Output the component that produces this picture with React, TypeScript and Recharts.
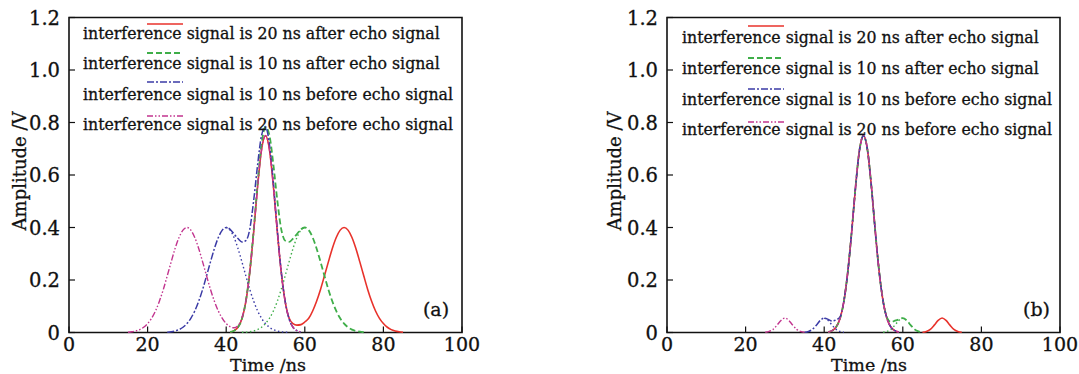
import { LineChart, Line, XAxis, YAxis, ReferenceArea } from "recharts";

// axis ticks
const xTicks = [0, 20, 40, 60, 80, 100];
const yTicks = [0, 0.2, 0.4, 0.6, 0.8, 1.0, 1.2];

const legendLabels = [
  "interference signal is 20 ns after echo signal",
  "interference signal is 10 ns after echo signal",
  "interference signal is 10 ns before echo signal",
  "interference signal is 20 ns before echo signal",
];

// panel (a) — one sample per ns, starting at the given time
const aRedStart = 41;
const aRed = [0.002, 0.007, 0.02, 0.052, 0.118, 0.23, 0.385, 0.558, 0.697, 0.75, 0.697, 0.558, 0.385, 0.23, 0.119, 0.055, 0.034, 0.028, 0.03, 0.04, 0.054, 0.082, 0.119, 0.164, 0.216, 0.269, 0.32, 0.362, 0.39, 0.4, 0.39, 0.362, 0.32, 0.269, 0.216, 0.164, 0.119, 0.082, 0.054, 0.034, 0.02, 0.011, 0.006, 0.003, 0.001];
const aGreenStart = 41;
const aGreen = [0.002, 0.007, 0.02, 0.052, 0.119, 0.233, 0.391, 0.569, 0.717, 0.784, 0.751, 0.64, 0.504, 0.394, 0.35, 0.345, 0.358, 0.375, 0.393, 0.4, 0.39, 0.362, 0.32, 0.269, 0.216, 0.164, 0.119, 0.082, 0.054, 0.034, 0.02, 0.011, 0.006, 0.003, 0.001];
const aBlueStart = 25;
const aBlue = [0.001, 0.003, 0.006, 0.011, 0.02, 0.034, 0.054, 0.082, 0.119, 0.164, 0.216, 0.269, 0.32, 0.362, 0.39, 0.4, 0.393, 0.375, 0.358, 0.345, 0.35, 0.394, 0.504, 0.64, 0.751, 0.784, 0.717, 0.569, 0.391, 0.233, 0.119, 0.052, 0.02, 0.007, 0.002];
const aMagentaStart = 15;
const aMagenta = [0.001, 0.003, 0.006, 0.011, 0.02, 0.034, 0.054, 0.082, 0.119, 0.164, 0.216, 0.269, 0.32, 0.362, 0.39, 0.4, 0.39, 0.362, 0.32, 0.269, 0.216, 0.164, 0.119, 0.082, 0.054, 0.034, 0.022, 0.018, 0.026, 0.055, 0.119, 0.23, 0.385, 0.558, 0.697, 0.75, 0.697, 0.558, 0.385, 0.23, 0.118, 0.052, 0.02, 0.007, 0.002];
const aBlueDotStart = 40;
const aBlueDot = [0.4, 0.39, 0.362, 0.32, 0.269, 0.216, 0.164, 0.119, 0.082, 0.054, 0.034, 0.02, 0.011, 0.006, 0.003, 0.001, 0.001];
const aGreenDotStart = 44;
const aGreenDot = [0.001, 0.001, 0.003, 0.006, 0.011, 0.02, 0.034, 0.054, 0.082, 0.119, 0.164, 0.216, 0.269, 0.32, 0.362, 0.39, 0.4];

// panel (b)
const bRedStart = 41;
const bRed = [0.002, 0.007, 0.02, 0.052, 0.118, 0.23, 0.385, 0.558, 0.697, 0.75, 0.697, 0.558, 0.385, 0.23, 0.118, 0.052, 0.02, 0.007, 0.002, null, null, null, null, null, 0.001, 0.004, 0.012, 0.028, 0.046, 0.055, 0.046, 0.028, 0.012, 0.004, 0.001];
const bGreenStart = 41;
const bGreen = [0.002, 0.007, 0.02, 0.052, 0.118, 0.23, 0.385, 0.558, 0.697, 0.75, 0.697, 0.558, 0.385, 0.23, 0.119, 0.056, 0.04, 0.045, 0.05, 0.055, 0.046, 0.028, 0.012, 0.004, 0.001];
const bBlueStart = 35;
const bBlue = [0.001, 0.004, 0.012, 0.028, 0.046, 0.055, 0.05, 0.044, 0.048, 0.058, 0.119, 0.23, 0.385, 0.558, 0.697, 0.75, 0.697, 0.558, 0.385, 0.23, 0.118, 0.052, 0.02, 0.007, 0.002];
const bMagentaStart = 25;
const bMagenta = [0.001, 0.004, 0.012, 0.028, 0.046, 0.055, 0.046, 0.028, 0.012, 0.004, 0.001, null, null, null, null, null, 0.002, 0.007, 0.02, 0.052, 0.118, 0.23, 0.385, 0.558, 0.697, 0.75, 0.697, 0.558, 0.385, 0.23, 0.118, 0.052, 0.02, 0.007, 0.002];
const bBlueDotStart = 40;
const bBlueDot = [0.055, 0.046, 0.028, 0.012, 0.004, 0.001];
const bGreenDotStart = 55;
const bGreenDot = [0.001, 0.004, 0.012, 0.028, 0.046, 0.055];

const RED = "#e8322b";
const GREEN = "#3fae49";
const BLUE = "#3b3ba6";
const MAGENTA = "#c2358f";
const FONT = "'DejaVu Serif', serif";
const INK = "#111";
// scanned figure text looks a bit heavy, thicken slightly
const heavy = { stroke: INK, strokeWidth: 0.3 };

const styles = [
  { color: RED, dash: undefined, width: 1.6 },
  { color: GREEN, dash: "6 3", width: 1.8 },
  { color: BLUE, dash: "7 2 2 2", width: 1.5 },
  { color: MAGENTA, dash: "6 2 1.5 2 1.5 2", width: 1.4 },
];

const toPoints = (start: number, values: (number | null)[]) =>
  values.map((v, i) => ({ t: start + i, v }));

function YTick(props: any) {
  const { x, y, payload } = props;
  const ax = x + 10; // tickSize 6 + tickMargin 4
  const v = payload.value;
  return (
    <g>
      <line x1={ax} x2={ax + 6} y1={y} y2={y} stroke={INK} strokeWidth={1.2} />
      <text x={ax - 9} y={y} dy="0.36em" textAnchor="end" fontSize={19.5} fontFamily={FONT} fill={INK} {...heavy}>
        {v === 0 ? "0" : v.toFixed(1)}
      </text>
    </g>
  );
}

function XTick(props: any) {
  const { x, y, payload } = props;
  const ay = y - 10;
  return (
    <g>
      <line x1={x} x2={x} y1={ay} y2={ay - 6} stroke={INK} strokeWidth={1.2} />
      <text x={x} y={ay + 18.5} textAnchor="middle" fontSize={19} fontFamily={FONT} fill={INK} {...heavy}>
        {payload.value}
      </text>
    </g>
  );
}

type Series = { data: { t: number; v: number | null }[]; color: string; dash?: string; width: number };

function Panel({
  left,
  width,
  rightMargin,
  series,
  tag,
  legend,
}: {
  left: number;
  width: number;
  rightMargin: number;
  series: Series[];
  tag: string;
  legend: { textX: number; baselines: number[]; sx1: number; sx2: number; sy: number[]; fontSize: number; yLabelX: number; xLabelX: number; tagX: number };
}) {
  return (
    <div style={{ position: "absolute", left, top: 0, width, height: 374 }}>
      <LineChart width={width} height={374} margin={{ top: 17.5, right: rightMargin, left: 9, bottom: 11.5 }}>
        <XAxis
          type="number"
          dataKey="t"
          domain={[0, 100]}
          ticks={xTicks}
          axisLine={false}
          tickLine={false}
          tickSize={6}
          tickMargin={4}
          height={30}
          tick={<XTick />}
          interval={0}
        />
        <YAxis
          type="number"
          domain={[0, 1.2]}
          ticks={yTicks}
          axisLine={false}
          tickLine={false}
          tickSize={6}
          tickMargin={4}
          width={60}
          tick={<YTick />}
          interval={0}
        />
        <ReferenceArea x1={0} x2={100} y1={0} y2={1.2} fill="none" stroke={INK} strokeWidth={1.6} ifOverflow="visible" />
        {series.map((s, i) => (
          <Line
            key={i}
            data={s.data}
            dataKey="v"
            type="monotone"
            stroke={s.color}
            strokeWidth={s.width}
            strokeDasharray={s.dash}
            dot={false}
            activeDot={false}
            isAnimationActive={false}
            connectNulls={false}
          />
        ))}
      </LineChart>
      <svg width={width} height={374} style={{ position: "absolute", left: 0, top: 0, pointerEvents: "none" }}>
        {legendLabels.map((label, i) => (
          <g key={i}>
            <text x={legend.textX} y={legend.baselines[i]} fontSize={legend.fontSize} fontFamily={FONT} fill={INK} {...heavy}>
              {label}
            </text>
            <line
              x1={legend.sx1}
              x2={legend.sx2}
              y1={legend.sy[i]}
              y2={legend.sy[i]}
              stroke={styles[i].color}
              strokeWidth={styles[i].width}
              strokeDasharray={styles[i].dash}
            />
          </g>
        ))}
        <text
          transform={`translate(${legend.yLabelX},171) rotate(-90)`}
          textAnchor="middle"
          dy="0.35em"
          fontSize={18}
          fontFamily={FONT}
          fill={INK}
          {...heavy}
        >
          Amplitude /V
        </text>
        <text x={legend.xLabelX} y={371} textAnchor="middle" fontSize={17.5} fontFamily={FONT} fill={INK} {...heavy}>
          Time /ns
        </text>
        <text x={legend.tagX} y={316} textAnchor="middle" fontSize={19} fontFamily={FONT} fill={INK} {...heavy}>
          {tag}
        </text>
      </svg>
    </div>
  );
}

export default function App() {
  const seriesA: Series[] = [
    { data: toPoints(aRedStart, aRed), ...styles[0] },
    { data: toPoints(aGreenStart, aGreen), ...styles[1] },
    { data: toPoints(aGreenDotStart, aGreenDot), color: GREEN, dash: "1.5 2.5", width: 1.4 },
    { data: toPoints(aBlueStart, aBlue), ...styles[2] },
    { data: toPoints(aBlueDotStart, aBlueDot), color: BLUE, dash: "1.5 2.5", width: 1.4 },
    { data: toPoints(aMagentaStart, aMagenta), ...styles[3] },
  ];
  const seriesB: Series[] = [
    { data: toPoints(bRedStart, bRed), ...styles[0] },
    { data: toPoints(bGreenStart, bGreen), ...styles[1] },
    { data: toPoints(bGreenDotStart, bGreenDot), color: GREEN, dash: "1.5 2.5", width: 1.4 },
    { data: toPoints(bBlueStart, bBlue), ...styles[2] },
    { data: toPoints(bBlueDotStart, bBlueDot), color: BLUE, dash: "1.5 2.5", width: 1.4 },
    { data: toPoints(bMagentaStart, bMagenta), ...styles[3] },
  ];
  return (
    <div style={{ position: "absolute", left: 0, top: 0, width: 1079, height: 374, background: "#fff" }}>
      <Panel
        left={0}
        width={540}
        rightMargin={78}
        series={seriesA}
        tag="(a)"
        legend={{ textX: 83, baselines: [39, 69, 100, 130], sx1: 147, sx2: 183, sy: [24, 53, 82, 116], fontSize: 15.75, yLabelX: 20, xLabelX: 268, tagX: 436 }}
      />
      <Panel
        left={597.5}
        width={481.5}
        rightMargin={19.5}
        series={seriesB}
        tag="(b)"
        legend={{ textX: 84, baselines: [43, 74, 105, 135], sx1: 150, sx2: 186, sy: [26, 58, 89, 122], fontSize: 15.75, yLabelX: 16.5, xLabelX: 271, tagX: 438.5 }}
      />
    </div>
  );
}
